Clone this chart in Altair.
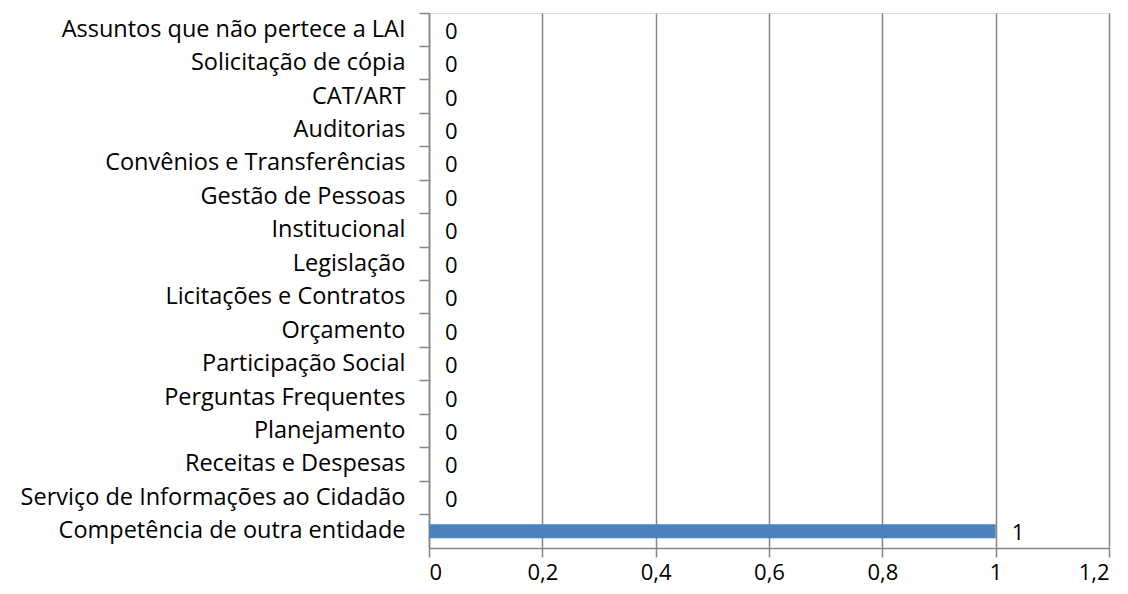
import altair as alt
import pandas as pd

categories = [
    "Assuntos que não pertece a LAI",
    "Solicitação de cópia ",
    "CAT/ART",
    "Auditorias",
    "Convênios e Transferências",
    "Gestão de Pessoas",
    "Institucional",
    "Legislação",
    "Licitações e Contratos",
    "Orçamento",
    "Participação Social",
    "Perguntas Frequentes",
    "Planejamento",
    "Receitas e Despesas",
    "Serviço de Informações ao Cidadão",
    "Competência de outra entidade",
]
values = [0, 0, 0, 0, 0, 0, 0, 0, 0, 0, 0, 0, 0, 0, 0, 1]
x_ticks = [0, 0.2, 0.4, 0.6, 0.8, 1.0, 1.2]

df = pd.DataFrame({"categoria": categories, "valor": values})

FONT = "Open Sans"
FS = 23.5
GRAY = "#868686"

y_enc = alt.Y(
    "categoria:N",
    sort=categories,
    title=None,
    scale=alt.Scale(paddingInner=0, paddingOuter=0),
    axis=alt.Axis(
        bandPosition=0,
        domainColor=GRAY,
        domainWidth=1.5,
        tickColor=GRAY,
        tickWidth=1.5,
        tickSize=10,
        labelPadding=14,
        labelFont=FONT,
        labelFontSize=FS,
        labelColor="#000000",
        labelLimit=600,
        grid=False,
    ),
)

x_enc = alt.X(
    "valor:Q",
    title=None,
    scale=alt.Scale(domain=[0, 1.2], nice=False),
    axis=alt.Axis(
        values=x_ticks,
        labelExpr="replace(format(datum.value, '.1~f'), '.', ',')",
        domainColor=GRAY,
        domainWidth=1.5,
        tickColor=GRAY,
        tickWidth=1.5,
        tickSize=9,
        labelPadding=5,
        labelFont=FONT,
        labelFontSize=22,
        labelColor="#000000",
        gridColor=GRAY,
        gridWidth=1.5,
        grid=True,
    ),
)

bars = alt.Chart(df).mark_bar(color="#4F81BD", size=14).encode(x=x_enc, y=y_enc)

labels = alt.Chart(df).mark_text(
    align="left", baseline="middle", dx=16, dy=2, font=FONT, fontSize=22, color="#000000"
).encode(
    x=alt.X("valor:Q"),
    y=alt.Y("categoria:N", sort=categories),
    text=alt.Text("valor:Q"),
)

border = alt.Chart(pd.DataFrame({"a": [0]})).mark_rule(color=GRAY, strokeWidth=2).encode(
    x=alt.value(-422), y=alt.value(-20), y2=alt.value(600)
)

chart = (
    alt.layer(bars, labels, border)
    .properties(
        width=680,
        height=535,
        autosize=alt.AutoSizeParams(type="none"),
        padding={"left": 421, "top": 5, "right": 10, "bottom": 37},
    )
    .configure_view(stroke=None)
    .configure(background="#ffffff")
)

chart.save("out.html", embed_options={"renderer": "svg", "actions": False})
